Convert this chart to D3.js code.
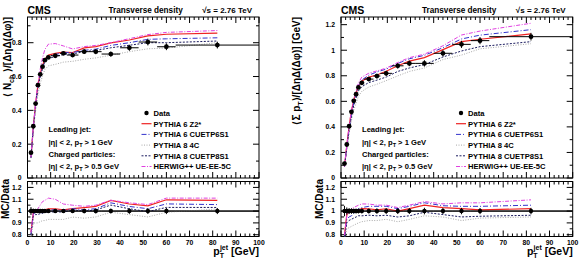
<!DOCTYPE html>
<html><head><meta charset="utf-8">
<script src="https://cdn.jsdelivr.net/npm/d3@7"></script>
<style>
html,body{margin:0;padding:0;background:#fff;}
svg text{font-family:"Liberation Sans",Arial,Helvetica,sans-serif;font-weight:bold;fill:#000;}
</style></head>
<body>
<svg id="c" width="580" height="262"></svg>
<script>
// ---------- data ----------
const ptCenters = [1.5,2.5,3.5,4.5,5.5,6.5,7.5,9,12,15.5,19.5,24.5,29.5,36,44,52,60,82];
const ptLow     = [1,2,3,4,5,6,7,8,10,14,17,22,27,32,40,48,56,64];
const ptHigh    = [2,3,4,5,6,7,8,10,14,17,22,27,32,40,48,56,64,100];
const xTicks = [0,10,20,30,40,50,60,70,80,90,100];

// left panel: charged-particle density
const nchData   = [0.150,0.306,0.440,0.549,0.613,0.658,0.697,0.713,0.723,0.737,0.727,0.747,0.747,0.733,0.770,0.804,0.776,0.786];
const nchErr    = [0.005,0.006,0.007,0.008,0.008,0.008,0.008,0.008,0.010,0.010,0.012,0.014,0.015,0.015,0.018,0.020,0.020,0.020];
const nchZ2     = [0.123,0.300,0.440,0.549,0.619,0.665,0.704,0.727,0.737,0.744,0.742,0.769,0.777,0.799,0.816,0.840,0.850,0.857];
const nchCUETP6 = [0.120,0.297,0.436,0.544,0.607,0.658,0.697,0.720,0.730,0.741,0.742,0.755,0.762,0.784,0.800,0.820,0.823,0.829];
const nch4C     = [0.117,0.275,0.396,0.494,0.558,0.605,0.641,0.663,0.672,0.685,0.690,0.702,0.710,0.726,0.747,0.764,0.768,0.800];
const nchCUETP8 = [0.120,0.294,0.427,0.533,0.600,0.645,0.690,0.706,0.719,0.730,0.734,0.747,0.754,0.770,0.785,0.800,0.800,0.810];
const nchHerwig = [0.123,0.300,0.440,0.560,0.644,0.711,0.760,0.791,0.795,0.781,0.763,0.777,0.784,0.800,0.824,0.848,0.861,0.872];
const nchYTicks = [0,0.2,0.4,0.6,0.8];

// right panel: sum pT density
const ptsData   = [0.113,0.262,0.405,0.518,0.604,0.656,0.709,0.745,0.774,0.798,0.819,0.878,0.897,0.897,0.976,1.046,1.075,1.106];
const ptsErr    = [0.005,0.008,0.010,0.012,0.012,0.013,0.014,0.015,0.016,0.018,0.020,0.022,0.022,0.025,0.025,0.028,0.028,0.030];
const ptsZ2     = [0.090,0.254,0.405,0.523,0.610,0.663,0.716,0.760,0.789,0.806,0.835,0.878,0.915,0.942,1.005,1.067,1.086,1.128];
const ptsCUETP6 = [0.088,0.244,0.385,0.497,0.592,0.656,0.723,0.767,0.805,0.830,0.852,0.896,0.933,0.960,1.020,1.088,1.118,1.161];
const pts4C     = [0.086,0.223,0.348,0.451,0.532,0.584,0.638,0.678,0.712,0.734,0.762,0.799,0.834,0.861,0.927,0.962,1.011,1.051];
const ptsCUETP8 = [0.088,0.236,0.373,0.482,0.568,0.623,0.681,0.715,0.747,0.766,0.790,0.834,0.861,0.888,0.947,0.994,1.028,1.067];
const ptsHerwig = [0.090,0.252,0.405,0.528,0.622,0.682,0.744,0.790,0.820,0.838,0.860,0.904,0.942,0.969,1.035,1.119,1.150,1.211];
const ptsYTicks = [0,0.2,0.4,0.6,0.8,1,1.2];

const ratioTicks = [0.8,0.9,1,1.1,1.2];
const mcNames = ["PYTHIA 6 Z2*","PYTHIA 6 CUETP6S1","PYTHIA 8 4C","PYTHIA 8 CUETP8S1","HERWIG++ UE-EE-5C"];
const mcStyles = [
  {color:"#ee2222", dash:null, w:1.2},
  {color:"#3333cc", dash:"5,2,1,2", w:1.0},
  {color:"#a8a8a8", dash:"1,1.5", w:1.0},
  {color:"#1a1a5e", dash:"2,1.5", w:1.0},
  {color:"#e040e0", dash:"4,1.5,1,1.5", w:1.0}
];

// ---------- drawing ----------
const svg = d3.select("#c");

function drawPanel(cfg){
  const x = d3.scaleLinear().domain([0,100]).range([cfg.x0, cfg.x1]);
  const y = d3.scaleLinear().domain([0,cfg.ymax]).range([178,17]);
  const yr = d3.scaleLinear().domain([0.785,1.25]).range([236.5,181.5]);
  const g = svg.append("g");
  const id = cfg.id;

  const defs = svg.append("defs");
  defs.append("clipPath").attr("id","m"+id).append("rect")
    .attr("x",cfg.x0).attr("y",17).attr("width",cfg.x1-cfg.x0).attr("height",161);
  defs.append("clipPath").attr("id","r"+id).append("rect")
    .attr("x",cfg.x0).attr("y",181.5).attr("width",cfg.x1-cfg.x0).attr("height",55);

  function frame(top,bottom){
    g.append("rect").attr("x",cfg.x0).attr("y",top).attr("width",cfg.x1-cfg.x0).attr("height",bottom-top)
      .attr("fill","none").attr("stroke","#000").attr("stroke-width",1);
  }
  function xTicksAt(top,bottom,labels){
    const majors = xTicks, minors = d3.range(0,101,2).filter(v=>v%10!==0);
    [[majors,6],[minors,3]].forEach(([vals,len])=>{
      g.selectAll(null).data(vals).enter().append("line")
        .attr("x1",d=>x(d)).attr("x2",d=>x(d)).attr("y1",bottom).attr("y2",bottom-len).attr("stroke","#000");
      g.selectAll(null).data(vals).enter().append("line")
        .attr("x1",d=>x(d)).attr("x2",d=>x(d)).attr("y1",top).attr("y2",top+len).attr("stroke","#000");
    });
    if(labels){
      g.selectAll(null).data(xTicks).enter().append("text")
        .attr("x",d=>x(d)).attr("y",bottom+8).attr("text-anchor","middle")
        .attr("font-size",6.8).text(d=>d);
    }
  }
  function yTicksAt(scale,majors,minors,fmt){
    [[majors,6],[minors,3]].forEach(([vals,len])=>{
      g.selectAll(null).data(vals).enter().append("line")
        .attr("x1",cfg.x0).attr("x2",cfg.x0+len).attr("y1",d=>scale(d)).attr("y2",d=>scale(d)).attr("stroke","#000");
      g.selectAll(null).data(vals).enter().append("line")
        .attr("x1",cfg.x1).attr("x2",cfg.x1-len).attr("y1",d=>scale(d)).attr("y2",d=>scale(d)).attr("stroke","#000");
    });
    g.selectAll(null).data(majors).enter().append("text")
      .attr("x",cfg.x0-6).attr("y",d=>scale(d)+2.4).attr("text-anchor","end")
      .attr("font-size",6.8).text(fmt);
  }

  frame(17,178);
  xTicksAt(17,178,false);
  const minMain = d3.range(0, cfg.ymax+0.001, 0.1).map(v=>+v.toFixed(2)).filter(v=>!cfg.yTicks.some(t=>Math.abs(t-v)<1e-6));
  yTicksAt(y, cfg.yTicks, minMain, d=>d3.format("~g")(d));

  frame(181.5,236.5);
  xTicksAt(181.5,236.5,true);
  yTicksAt(yr, ratioTicks, [0.85,0.95,1.05,1.15], d=>d3.format("~g")(d));

  const line = d3.line().x(d=>x(d[0])).y(d=>y(d[1]));
  const rline = d3.line().x(d=>x(d[0])).y(d=>yr(d[1]));
  const mg = g.append("g").attr("clip-path","url(#m"+id+")");
  const rg = g.append("g").attr("clip-path","url(#r"+id+")");

  rg.append("line").attr("x1",cfg.x0).attr("x2",cfg.x1).attr("y1",yr(1)).attr("y2",yr(1))
    .attr("stroke","#000").attr("stroke-width",1);

  cfg.mc.forEach((arr,i)=>{
    const st = mcStyles[i];
    mg.append("path").attr("d",line(arr.map((v,j)=>[ptCenters[j],v])))
      .attr("fill","none").attr("stroke",st.color).attr("stroke-width",st.w)
      .attr("stroke-dasharray",st.dash);
    rg.append("path").attr("d",rline(arr.map((v,j)=>[ptCenters[j],v/cfg.data[j]])))
      .attr("fill","none").attr("stroke",st.color).attr("stroke-width",st.w)
      .attr("stroke-dasharray",st.dash);
  });

  cfg.data.forEach((v,j)=>{
    const cx = x(ptCenters[j]);
    mg.append("line").attr("x1",x(ptLow[j])).attr("x2",x(ptHigh[j])).attr("y1",y(v)).attr("y2",y(v)).attr("stroke","#000");
    mg.append("line").attr("x1",cx).attr("x2",cx).attr("y1",y(v-cfg.err[j])).attr("y2",y(v+cfg.err[j])).attr("stroke","#000");
    mg.append("circle").attr("cx",cx).attr("cy",y(v)).attr("r",2.4).attr("fill","#000");
    const re = cfg.err[j]/v;
    rg.append("line").attr("x1",x(ptLow[j])).attr("x2",x(ptHigh[j])).attr("y1",yr(1)).attr("y2",yr(1)).attr("stroke","#000");
    rg.append("line").attr("x1",cx).attr("x2",cx).attr("y1",yr(1-re)).attr("y2",yr(1+re)).attr("stroke","#000");
    rg.append("circle").attr("cx",cx).attr("cy",yr(1)).attr("r",2.2).attr("fill","#000");
  });

  g.append("text").attr("x",cfg.x0).attr("y",13.5).attr("font-size",10.5).text("CMS");
  g.append("text").attr("x",cfg.x0+81).attr("y",13).attr("font-size",8.2).text("Transverse density");
  g.append("text").attr("x",cfg.x1-7).attr("y",13).attr("font-size",8).attr("text-anchor","end")
    .text("√s = 2.76 TeV");

  const yt = g.append("text").attr("transform",`translate(${cfg.ytx},17) rotate(-90)`)
    .attr("text-anchor","end").attr("font-size",10);
  cfg.ytitle(yt);
  g.append("text").attr("transform",`translate(${cfg.x0-18.5},179) rotate(-90)`)
    .attr("text-anchor","end").attr("font-size",10).text("MC/Data");
  const xt = g.append("text").attr("x",cfg.x1).attr("y",255).attr("text-anchor","end").attr("font-size",10.5);
  xt.append("tspan").text("p");
  xt.append("tspan").attr("font-size",7).attr("dy",2.5).text("T");
  xt.append("tspan").attr("font-size",7).attr("dx",-4).attr("dy",-8).text("jet");
  xt.append("tspan").attr("dy",5.5).text(" [GeV]");

  const ax = cfg.x0 + cfg.annDx;
  g.append("text").attr("x",ax).attr("y",132).attr("font-size",7.6).text("Leading jet:");
  const a2 = g.append("text").attr("x",ax).attr("y",145).attr("font-size",7.6);
  a2.append("tspan").text("|η| < 2, p");
  a2.append("tspan").attr("font-size",5.5).attr("dy",2).text("T");
  a2.append("tspan").attr("dy",-2).text(" > 1 GeV");
  g.append("text").attr("x",ax).attr("y",157).attr("font-size",7.6).text("Charged particles:");
  const a4 = g.append("text").attr("x",ax).attr("y",169).attr("font-size",7.6);
  a4.append("tspan").text("|η| < 2, p");
  a4.append("tspan").attr("font-size",5.5).attr("dy",2).text("T");
  a4.append("tspan").attr("dy",-2).text(" > 0.5 GeV");

  const lx = cfg.x0 + cfg.legDx;
  const ly0 = 113;
  const lg = g.append("g");
  lg.append("circle").attr("cx",lx+5).attr("cy",ly0).attr("r",2.2).attr("fill","#000");
  lg.append("text").attr("x",lx+12).attr("y",ly0+2.8).attr("font-size",7.6).text("Data");
  mcNames.forEach((n,i)=>{
    const yy = ly0 + 10.7*(i+1);
    const st = mcStyles[i];
    lg.append("line").attr("x1",lx).attr("x2",lx+10).attr("y1",yy).attr("y2",yy)
      .attr("stroke",st.color).attr("stroke-width",st.w).attr("stroke-dasharray",st.dash);
    lg.append("text").attr("x",lx+12).attr("y",yy+2.8).attr("font-size",7.6).text(n);
  });
}

drawPanel({id:"L", x0:27.5, x1:259, ymax:0.952, yTicks:nchYTicks, data:nchData, err:nchErr,
  mc:[nchZ2,nchCUETP6,nch4C,nchCUETP8,nchHerwig], ytx:11, annDx:21, legDx:114,
  ytitle:t=>{ t.append("tspan").text("⟨ N");
              t.append("tspan").attr("font-size",7).attr("dy",2.5).text("ch");
              t.append("tspan").attr("dy",-2.5).text(" ⟩/[ΔηΔ(Δφ)]"); }});
drawPanel({id:"R", x0:341, x1:572.7, ymax:1.26, yTicks:ptsYTicks, data:ptsData, err:ptsErr,
  mc:[ptsZ2,ptsCUETP6,pts4C,ptsCUETP8,ptsHerwig], ytx:300, annDx:21, legDx:115,
  ytitle:t=>{ t.append("tspan").text("⟨Σ p");
              t.append("tspan").attr("font-size",7).attr("dy",2.5).text("T");
              t.append("tspan").attr("dy",-2.5).text("⟩/[ΔηΔ(Δφ)] [GeV]"); }});
</script>
</body></html>
